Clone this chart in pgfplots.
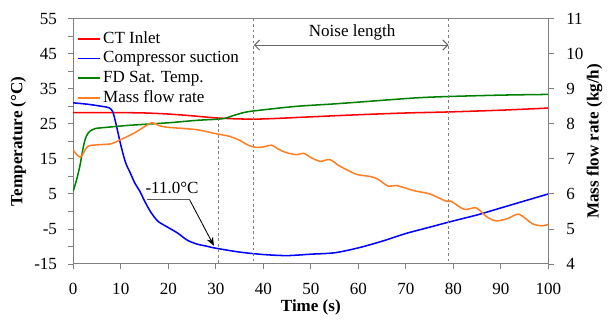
\documentclass[border=0pt]{standalone}
\usepackage{pgfplots}
\pgfplotsset{compat=1.18}
\usepackage{fontspec}
\setmainfont{Liberation Serif}
\usetikzlibrary{arrows.meta}
\definecolor{cred}{RGB}{255,0,0}
\definecolor{cblue}{RGB}{0,0,255}
\definecolor{cgreen}{RGB}{0,128,0}
\definecolor{corange}{RGB}{255,127,39}
\begin{document}
\begin{tikzpicture}
\pgfplotsset{
  common/.style={
    scale only axis, width=279pt, height=144pt,
    xmin=0, xmax=100,
    /pgf/number format/assume math mode=true,
    tick align=outside,
    major tick length=3pt,
    minor tick length=3pt,
    tick style={gray, line width=0.5pt},
    axis line style={gray, line width=0.6pt},
    ticklabel style={font=\fontsize{10}{12}\selectfont},
    label style={font=\fontsize{10}{12}\selectfont\bfseries},
  }
}
\begin{axis}[common, name=main,
  ymin=-15, ymax=55,
  ytick={-15,-5,...,55},
  minor ytick={-10,0,...,50},
  xtick={0,10,...,100},
  xtick pos=bottom, ytick pos=left,
  xticklabel style={yshift=-5pt},
  yticklabel style={xshift=-3pt},
  ylabel={Temperature (°C)},
  xlabel={Time (s)},
  ylabel style={yshift=-2pt},
  xlabel style={yshift=4pt},
]
\addplot[cred, line width=0.9pt, smooth] coordinates {
(0,28.2) (10,28.2) (15,28.1) (20,27.8) (25,27.3) (30,26.7) (35,26.4) (40,26.4)
(50,27.0) (60,27.6) (70,28.1) (79,28.4) (90,28.9) (100,29.5)};
\addplot[cblue, line width=0.9pt, smooth] coordinates {
(0,31) (3,30.6) (6,30) (7.5,29.6) (8.3,28.5) (9,25) (10,19) (11,14) (12,11) (13,8)
(14,5.8) (15,3) (16,0.5) (17,-1.5) (18,-3) (20,-4.6) (22,-6.2) (24,-8.2) (26,-9.3)
(28,-9.9) (30,-10.5) (35,-11.6) (40,-12.3) (45,-12.6) (50,-12.2) (55,-11.8)
(60,-10.4) (65,-8.5) (70,-6.3) (75,-4.5) (80,-2.7) (85,-1) (90,1) (95,3) (100,5)};
\addplot[cgreen, line width=0.9pt, smooth] coordinates {
(0,5.8) (0.7,9) (1.4,13) (2,17.5) (2.5,20.5) (3.2,22.5) (4.5,23.6) (7,24) (12,24.6)
(20,25.3) (26,26) (30,26.3) (32,26.6) (34,27.5) (36.5,28.4) (40,29) (47,30)
(55,30.7) (61,31.3) (72,32.4) (79,32.8) (90,33.2) (100,33.4)};
% annotations
\draw[gray, dash pattern=on 1.6pt off 1.6pt, line width=0.6pt] (axis cs:30.5,26.5) -- (axis cs:30.5,-15);
\draw[gray, dash pattern=on 1.6pt off 1.6pt, line width=0.6pt] (axis cs:38,55) -- (axis cs:38,-15);
\draw[gray, dash pattern=on 1.6pt off 1.6pt, line width=0.6pt] (axis cs:79,55) -- (axis cs:79,-15);
\draw[gray!80!black, line width=0.6pt, {Straight Barb[length=3pt,width=6pt]}-{Straight Barb[length=3pt,width=6pt]}]
  (axis cs:38,47.5) -- (axis cs:79,47.5);
\node[font=\fontsize{10}{12}\selectfont] at (axis cs:58.7,51) {Noise length};
\draw[gray!70!black, line width=0.5pt] (axis cs:15.6,3.3) -- (axis cs:24.5,3.3);
\draw[black, line width=0.5pt, -{Stealth[length=5pt,width=4pt]}] (axis cs:24.5,3.3) -- (axis cs:29.6,-9.8);
\node[font=\fontsize{10}{12}\selectfont, anchor=base] at (axis cs:20.8,5.0) {-11.0°C};
\end{axis}
\begin{axis}[common,
  ymin=4, ymax=11,
  ytick={4,5,...,11},
  axis y line*=right, axis x line=none,
  yticklabel style={xshift=4pt},
  ylabel={Mass flow rate (kg/h)},
  ylabel style={yshift=5pt},
  legend style={at={(0.005,0.97)}, anchor=north west, draw=none, fill=none,
    font=\fontsize{10}{10}\selectfont, row sep=-0.6pt, inner sep=1pt},
  legend cell align=left,
]
\addlegendimage{legend image code/.code={\path[fill=cred, draw=none] (0pt,-0.5pt) rectangle (13pt,0.5pt);}}
\addlegendentry{CT Inlet}
\addlegendimage{legend image code/.code={\path[fill=cblue, draw=none] (0pt,-0.5pt) rectangle (13pt,0.5pt);}}
\addlegendentry{Compressor suction}
\addlegendimage{legend image code/.code={\path[fill=cgreen, draw=none] (0pt,-0.5pt) rectangle (13pt,0.5pt);}}
\addlegendentry{FD Sat. Temp.}
\addlegendimage{legend image code/.code={\path[fill=corange, draw=none] (0pt,-0.5pt) rectangle (13pt,0.5pt);}}
\addlegendentry{Mass flow rate}
\addplot[corange, line width=0.9pt, smooth, forget plot] coordinates {
(0,7.25) (1.5,7.05) (3,7.35) (5,7.4) (8,7.43) (10,7.55) (13,7.75) (16.5,8.03) (18,7.95)
(20,7.9) (24,7.86) (26.6,7.82) (30,7.72) (33,7.64) (35,7.53) (37,7.38) (38.5,7.33)
(40,7.34) (41.8,7.39) (43,7.29) (44.6,7.19) (47,7.12) (48.5,7.16) (50,7.04) (52,6.93)
(54,6.98) (56,6.8) (59.6,6.56) (62.4,6.5) (64,6.43) (66.3,6.22) (68,6.24) (71.8,6.09)
(75,6.0) (78.5,5.79) (79.5,5.79) (82.3,5.56) (84.8,5.6) (87,5.35) (89,5.23) (91.5,5.3)
(93.8,5.42) (96.6,5.15) (98.7,5.09) (100,5.13)};
\end{axis}
\path ([yshift=11pt]main.north) ([yshift=-33pt]main.south) ([xshift=-43pt]main.west) ([xshift=31pt]main.east);
\end{tikzpicture}
\end{document}
